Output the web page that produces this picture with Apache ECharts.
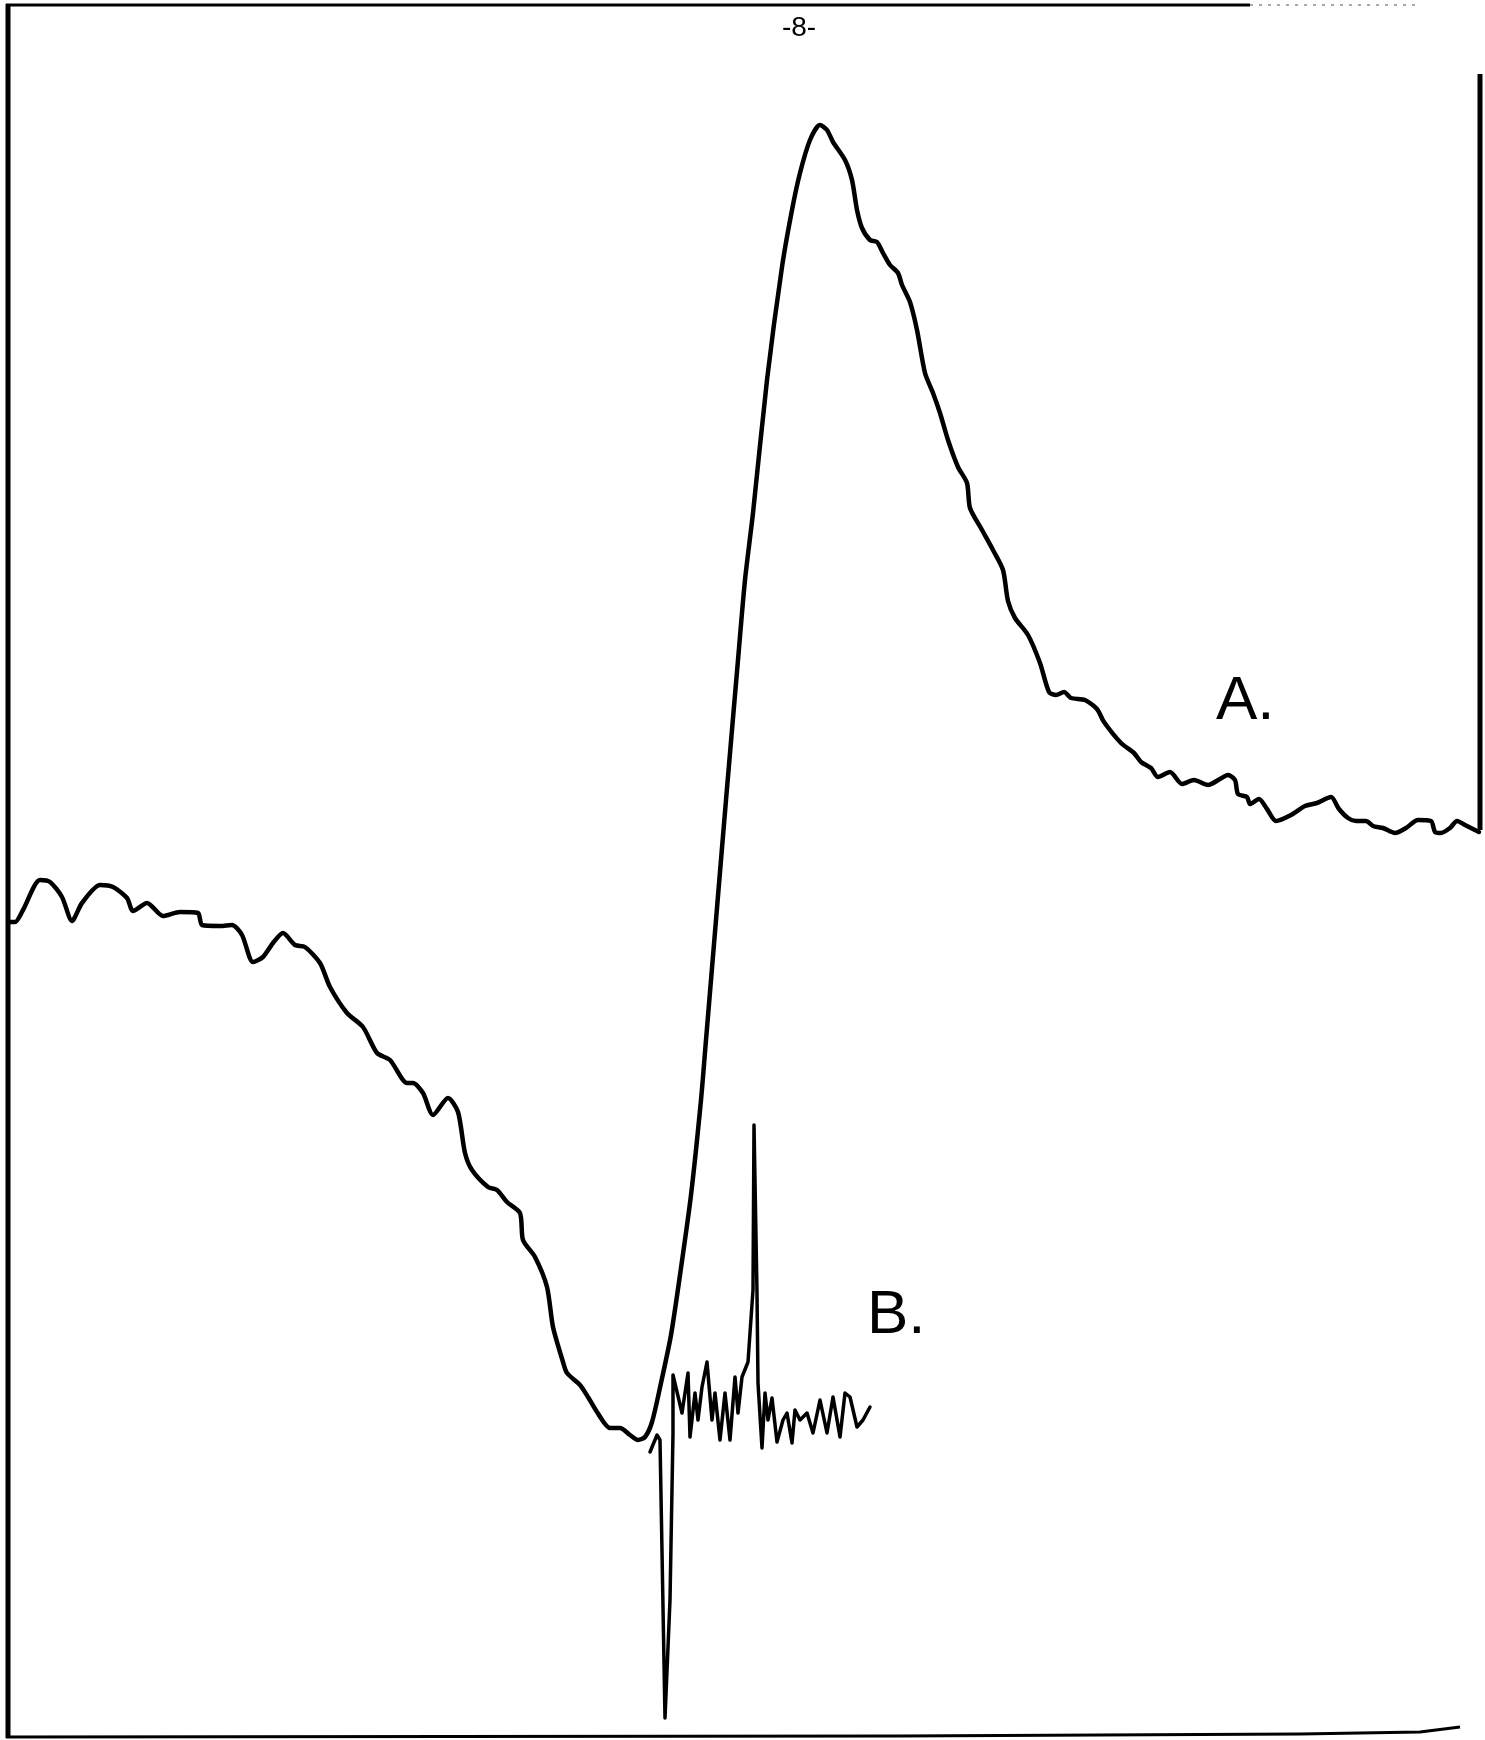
<!DOCTYPE html>
<html>
<head>
<meta charset="utf-8">
<script src="https://cdn.jsdelivr.net/npm/echarts@6/dist/echarts.min.js"></script>
<style>
html,body{margin:0;padding:0;background:#fff;}
#chart{width:1485px;height:1740px;}
</style>
</head>
<body>
<div id="chart"></div>
<script>
// Trace A: smooth response (x = time position, y = deflection)
var traceA = [
[10,922],[15,922],[23,910],[40,880],[50,882],[62,897],[72,921],[82,903],[100,885],[113,887],
[127,898],[133,911],[147,903],[163,916],[180,912],[198,913],[202,925],[220,926],[232,925],[242,935],
[253,962],[263,957],[273,943],[283,933],[295,945],[305,947],[320,963],[330,987],[347,1013],[363,1027],
[377,1053],[390,1060],[407,1083],[413,1083],[423,1093],[433,1115],[448,1098],[458,1112],[465,1153],[472,1170],
[488,1187],[497,1190],[507,1202],[520,1213],[523,1240],[535,1257],[547,1287],[553,1327],[563,1362],[567,1373],
[580,1385],[588,1397],[597,1412],[610,1428],[620,1428],[630,1435],[638,1440],[645,1437],[652,1422],[661,1383],
[671,1335],[681,1268],[691,1195],[701,1100],[706,1040],[716,920],[726,800],[738,660],[745,580],[753,513],[767,380],
[782,267],[792,210],[800,173],[810,140],[820,125],[827,130],[833,142],[845,160],[852,180],[857,210],
[862,228],[870,240],[877,242],[883,253],[890,265],[898,273],[902,285],[910,302],[917,330],[925,373],
[933,393],[940,413],[948,440],[958,467],[967,483],[970,508],[982,530],[993,550],[1003,570],[1008,601],
[1015,618],[1028,635],[1040,663],[1049,692],[1056,695],[1064,692],[1071,698],[1085,700],[1097,709],[1104,722],
[1121,743],[1134,753],[1141,762],[1151,768],[1158,777],[1170,772],[1182,784],[1194,780],[1208,785],[1220,779],
[1228,775],[1235,780],[1238,794],[1247,797],[1250,804],[1259,799],[1267,809],[1276,821],[1291,815],[1305,806],
[1317,803],[1331,797],[1339,809],[1348,818],[1356,821],[1366,821],[1373,826],[1383,828],[1395,833],[1406,828],
[1418,820],[1431,821],[1435,832],[1441,833],[1450,828],[1457,821],[1465,825],[1479,832]
];
// Trace B: fast record with spikes
var traceB = [
[650,1452],[657,1435],[660,1440],[665,1718],[670,1600],[673,1433],[673,1375],
[682,1413],[688,1373],[690,1437],[695,1393],[698,1420],[702,1387],[707,1362],[712,1420],
[715,1393],[720,1440],[725,1393],[730,1440],[735,1377],[738,1413],[742,1377],[748,1362],
[750,1333],[753,1290],[754,1125],[757,1293],[758,1383],[762,1448],[765,1393],[768,1420],
[772,1398],[777,1442],[783,1420],[787,1413],[792,1443],[795,1410],[800,1420],[807,1413],
[813,1433],[820,1400],[827,1433],[833,1397],[840,1437],[845,1393],[850,1397],[857,1427],
[863,1420],[870,1407]
];
var labels = ["A.", "B."];
var pageLabel = "-8-";

var chart = echarts.init(document.getElementById('chart'), null, {renderer:'canvas'});
chart.setOption({
  backgroundColor: '#ffffff',
  animation: false,
  grid: {left:0, right:0, top:0, bottom:0},
  xAxis: {type:'value', min:0, max:1485, show:false},
  yAxis: {type:'value', min:0, max:1740, inverse:true, show:false},
  series: [
    {type:'line', data: traceA, symbol:'none', smooth:0.25,
     lineStyle:{color:'#000', width:4.5, cap:'round', join:'round'}},
    {type:'line', data: traceB, symbol:'none', smooth:false,
     lineStyle:{color:'#000', width:3.5, cap:'round', join:'round'}}
  ],
  graphic: [
    {type:'line', shape:{x1:8, y1:4, x2:8, y2:1738}, style:{stroke:'#000', lineWidth:5}},
    {type:'line', shape:{x1:6, y1:5, x2:1250, y2:5}, style:{stroke:'#000', lineWidth:3}},
    {type:'line', shape:{x1:1250, y1:5, x2:1420, y2:5}, style:{stroke:'#555', lineWidth:1, lineDash:[3,6]}},
    {type:'polyline', shape:{points:[[6,1737],[900,1736],[1300,1734],[1420,1732],[1460,1727]]}, style:{stroke:'#000', lineWidth:3, fill:null}},
    {type:'line', shape:{x1:1480, y1:74, x2:1480, y2:830}, style:{stroke:'#000', lineWidth:5}},
    {type:'text', style:{text: pageLabel, x:799, y:28, textAlign:'center', textVerticalAlign:'middle',
      font:'normal 28px "Liberation Sans", sans-serif', fill:'#000'}},
    {type:'text', style:{text: labels[0], x:1216, y:702, textAlign:'left', textVerticalAlign:'middle',
      font:'normal 62px "Liberation Sans", sans-serif', fill:'#000'}},
    {type:'text', style:{text: labels[1], x:867, y:1316, textAlign:'left', textVerticalAlign:'middle',
      font:'normal 62px "Liberation Sans", sans-serif', fill:'#000'}}
  ]
});
</script>
</body>
</html>
